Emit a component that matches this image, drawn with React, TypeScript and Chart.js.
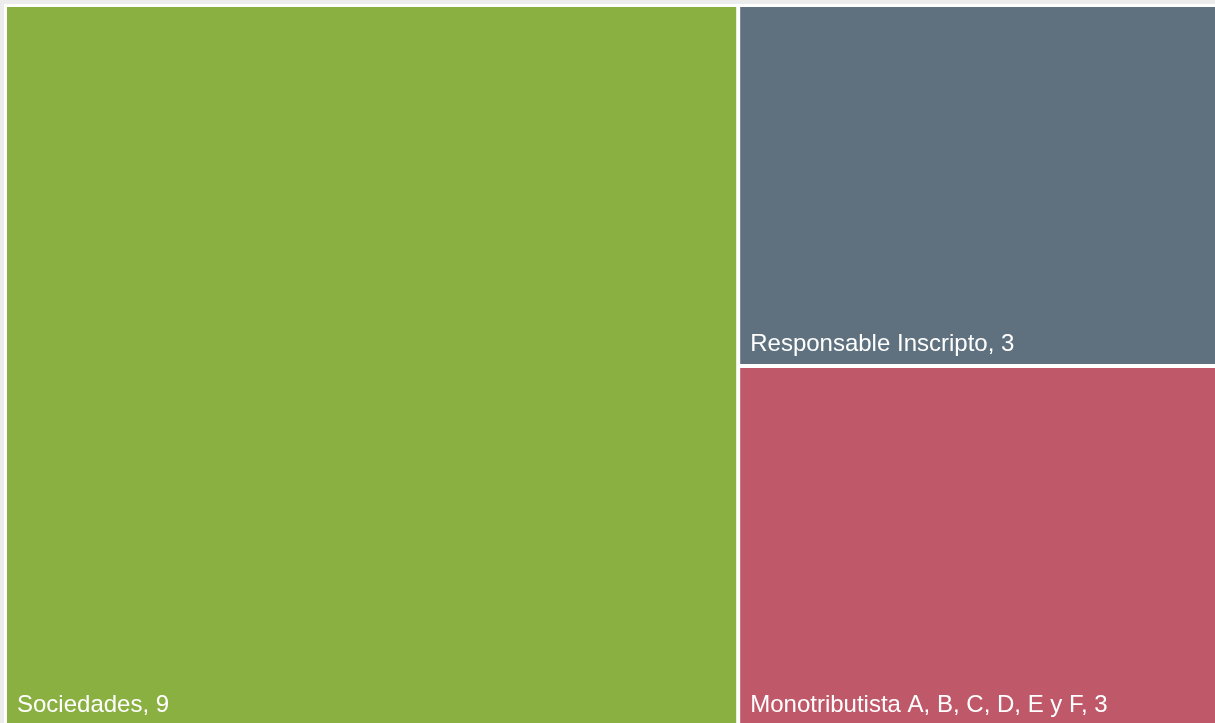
import React, { useEffect, useRef } from "react";
import { Chart, registerables } from "chart.js";

Chart.register(...registerables);

const categories: string[] = ["Sociedades", "Responsable Inscripto", "Monotributista A, B, C, D, E y F"];
const values: number[] = [9, 3, 3];
const colors: string[] = ["#8bb042", "#5f717e", "#bf5869"];

type Cell = { i: number; x0: number; y0: number; x1: number; y1: number };

// squarified layout in normalized [0,1]x[0,1] space, with aspect = width/height in pixels
function squarify(vals: number[], aspect: number): Cell[] {
  const order = vals.map((v, i) => i).sort((a, b) => vals[b] - vals[a]);
  const total = vals.reduce((s, v) => s + v, 0);
  const out: Cell[] = [];
  let rx0 = 0, ry0 = 0, rx1 = 1, ry1 = 1;
  let remaining = total;
  let idx = 0;
  while (idx < order.length) {
    const wPx = (rx1 - rx0) * aspect;
    const hPx = ry1 - ry0;
    const vertical = wPx >= hPx;
    const side = vertical ? hPx : wPx;
    const other = vertical ? wPx : hPx;
    let row: number[] = [vals[order[idx]]];
    const rowIdx: number[] = [order[idx]];
    let j = idx + 1;
    const ws = (r: number[]) => {
      const s = r.reduce((a, b) => a + b, 0);
      const thick = (s / remaining) * other;
      let w = 0;
      for (const v of r) {
        const len = (v / s) * side;
        w = Math.max(w, thick / len, len / thick);
      }
      return w;
    };
    while (j < order.length) {
      const cand = [...row, vals[order[j]]];
      if (ws(cand) <= ws(row)) {
        row = cand;
        rowIdx.push(order[j]);
        j++;
      } else break;
    }
    const s = row.reduce((a, b) => a + b, 0);
    const frac = s / remaining;
    if (vertical) {
      const cx1 = rx0 + (rx1 - rx0) * frac;
      let cy = ry0;
      rowIdx.forEach((k) => {
        const h = (ry1 - ry0) * (vals[k] / s);
        out.push({ i: k, x0: rx0, y0: cy, x1: cx1, y1: cy + h });
        cy += h;
      });
      rx0 = cx1;
    } else {
      const cy1 = ry0 + (ry1 - ry0) * frac;
      let cx = rx0;
      rowIdx.forEach((k) => {
        const w = (rx1 - rx0) * (vals[k] / s);
        out.push({ i: k, x0: cx, y0: ry0, x1: cx + w, y1: cy1 });
        cx += w;
      });
      ry0 = cy1;
    }
    remaining -= s;
    idx = j;
  }
  return out;
}

const treemapPlugin = {
  id: "treemapDraw",
  beforeDatasetsDraw(chart: any) {
    const { ctx, chartArea, scales } = chart;
    const xs = scales.x;
    const ys = scales.y;
    const aspect = (chartArea.right - chartArea.left) / (chartArea.bottom - chartArea.top);
    const cells = squarify(values, aspect);
    const inset = 2;
    ctx.save();
    for (const c of cells) {
      const l = xs.getPixelForValue(c.x0) + inset;
      const r = xs.getPixelForValue(c.x1) - inset;
      const t = ys.getPixelForValue(c.y0) + inset;
      const b = ys.getPixelForValue(c.y1) - inset;
      ctx.fillStyle = colors[c.i];
      ctx.fillRect(l, t, r - l, b - t);
      ctx.fillStyle = "#ffffff";
      ctx.font = "24px 'Liberation Sans', Arial, sans-serif";
      ctx.textBaseline = "alphabetic";
      ctx.textAlign = "left";
      ctx.fillText(`${categories[c.i]}, ${values[c.i]}`, l + 10, b - 13);
    }
    ctx.restore();
  },
};

export default function App() {
  const ref = useRef<HTMLCanvasElement | null>(null);
  useEffect(() => {
    document.documentElement.style.overflow = "hidden";
    document.body.style.margin = "0";
    document.body.style.overflow = "hidden";
    document.body.style.background = "#ececec";
    const canvas = ref.current!;
    const chart = new Chart(canvas, {
      type: "scatter",
      data: { datasets: [{ data: [] }] },
      options: {
        animation: false,
        responsive: false,
        devicePixelRatio: 1,
        layout: { padding: { left: 1, top: 1, right: 0, bottom: 0 } },
        plugins: { legend: { display: false }, tooltip: { enabled: false } },
        scales: {
          x: { type: "linear", min: 0, max: 1, display: false },
          y: { type: "linear", min: 0, max: 1, display: false, reverse: true },
        },
      },
      plugins: [treemapPlugin],
    });
    return () => chart.destroy();
  }, []);
  return (
    <div style={{ position: "absolute", left: 4, top: 4, background: "#ffffff", width: 1223, height: 723 }}>
      <canvas ref={ref} width={1223} height={723} style={{ display: "block", width: 1223, height: 723 }} />
    </div>
  );
}
